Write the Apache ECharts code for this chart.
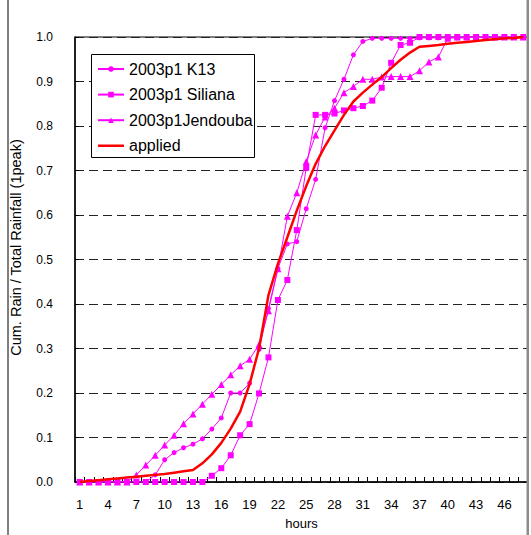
<!DOCTYPE html>
<html>
<head>
<meta charset="utf-8">
<script src="https://cdn.jsdelivr.net/npm/echarts@6/dist/echarts.min.js"></script>
<style>html,body{margin:0;padding:0;background:#fff}#c{width:531px;height:535px}</style>
</head>
<body>
<div id="c"></div>
<script>
// Categories (hours)
const hours = [1,2,3,4,5,6,7,8,9,10,11,12,13,14,15,16,17,18,19,20,21,22,23,24,25,26,27,28,29,30,31,32,33,34,35,36,37,38,39,40,41,42,43,44,45,46,47,48];

// Series values (cumulative rain / total rainfall)
const k13 = [0,0,0,0,0,0,0,0,0.016,0.05,0.066,0.077,0.085,0.097,0.119,0.144,0.200,0.200,0.222,0.298,0.39,0.48,0.535,0.54,0.614,0.68,0.796,0.857,0.905,0.96,0.99,0.997,0.997,0.997,0.997,0.997,0.998,0.998,0.998,0.998,0.998,0.998,1,1,1,1,1,1];
const siliana = [0,0,0,0,0,0,0,0,0,0,0,0,0,0,0.014,0.031,0.06,0.105,0.13,0.199,0.28,0.409,0.454,0.566,0.706,0.825,0.825,0.828,0.835,0.84,0.845,0.857,0.886,0.942,0.982,0.987,1,1,1,1,1,1,1,1,1,1,1,1];
const jendouba = [0,0,0,0,0,0,0.016,0.038,0.06,0.083,0.105,0.131,0.153,0.175,0.197,0.219,0.241,0.261,0.276,0.309,0.385,0.479,0.597,0.65,0.72,0.78,0.82,0.84,0.875,0.889,0.905,0.905,0.91,0.911,0.911,0.911,0.924,0.944,0.955,0.997,1,1,1,1,1,1,1,1];
const applied = [0,0.002,0.004,0.006,0.008,0.010,0.012,0.014,0.016,0.018,0.021,0.024,0.027,0.042,0.062,0.088,0.12,0.158,0.22,0.30,0.42,0.49,0.55,0.61,0.665,0.715,0.755,0.79,0.825,0.855,0.875,0.893,0.91,0.93,0.949,0.965,0.978,0.98,0.982,0.985,0.987,0.989,0.991,0.993,0.995,0.997,0.998,1];

const seriesNames = ['2003p1 K13', '2003p1 Siliana', '2003p1Jendouba', 'applied'];
const xName = 'hours';
const yName = 'Cum. Rain / Total Rainfall (1peak)';

const FONT = '"Liberation Sans", Arial, sans-serif';
const MAG = '#ff00ff';

const chart = echarts.init(document.getElementById('c'), null, {renderer: 'svg'});
chart.setOption({
  animation: false,
  backgroundColor: '#fff',
  grid: {left: 74, right: 3, top: 37, bottom: 46, show: true, borderColor: '#000', borderWidth: 1},
  xAxis: {
    type: 'category', data: hours, boundaryGap: true,
    name: xName, nameLocation: 'middle', nameGap: 35,
    nameTextStyle: {fontFamily: FONT, fontSize: 13, color: '#000'},
    axisLine: {lineStyle: {color: '#000', width: 1.5}},
    axisTick: {show: true, inside: true, length: 5, interval: 0, lineStyle: {color: '#000'}},
    axisLabel: {interval: 2, margin: 16, fontFamily: FONT, fontSize: 13, color: '#000'},
    splitLine: {show: false}
  },
  yAxis: {
    type: 'value', min: 0, max: 1, interval: 0.1,
    name: yName, nameLocation: 'middle', nameGap: 52, nameRotate: 90,
    nameTextStyle: {fontFamily: FONT, fontSize: 14.5, color: '#000', padding: [0, 0, 0, 24]},
    axisLine: {show: true, lineStyle: {color: '#000', width: 1.5}},
    axisTick: {show: true, inside: true, length: 4, lineStyle: {color: '#000'}},
    axisLabel: {formatter: v => v.toFixed(1), margin: 22, fontFamily: FONT, fontSize: 12, color: '#000'},
    splitLine: {show: true, lineStyle: {color: '#222', type: [9, 5], width: 1}}
  },
  legend: {
    orient: 'vertical', left: 97, top: 60, padding: 0,
    itemWidth: 26, itemHeight: 7, itemGap: 7.6,
    textStyle: {fontFamily: FONT, fontSize: 16, color: '#000', lineHeight: 18},
    z: 5,
    data: [
      {name: seriesNames[0]},
      {name: seriesNames[1]},
      {name: seriesNames[2]},
      {name: seriesNames[3], icon: 'path://M0,0L26,0L26,0.01L0,0.01Z M0,2.2L26,2.2L26,4.8L0,4.8Z M0,7L26,7L26,7.01L0,7.01Z'}
    ]
  },
  graphic: {elements: [
    {type: 'rect', z: 4, shape: {x: 91.5, y: 54.5, width: 163, height: 103}, style: {fill: '#fff', stroke: '#000', lineWidth: 1}},
    {type: 'line', z: 4, shape: {x1: 8, y1: 0, x2: 8, y2: 535}, style: {stroke: '#000', lineWidth: 1}},
    {type: 'rect', z: 4, shape: {x: 526.5, y: 0, width: 2.5, height: 535}, style: {fill: '#8c8c8c'}}
  ]},
  series: [
    {name: seriesNames[0], type: 'line', data: k13, symbol: 'circle', symbolSize: 5, showSymbol: true, showAllSymbol: true,
     lineStyle: {color: MAG, width: 1}, itemStyle: {color: MAG}, z: 2},
    {name: seriesNames[1], type: 'line', data: siliana, symbol: 'rect', symbolSize: 6, showSymbol: true, showAllSymbol: true,
     lineStyle: {color: MAG, width: 1}, itemStyle: {color: MAG}, z: 2},
    {name: seriesNames[2], type: 'line', data: jendouba, symbol: 'triangle', symbolSize: 7, showSymbol: true, showAllSymbol: true,
     lineStyle: {color: MAG, width: 1}, itemStyle: {color: MAG}, z: 2},
    {name: seriesNames[3], type: 'line', data: applied, symbol: 'none',
     lineStyle: {color: '#ff0000', width: 2.5}, itemStyle: {color: '#ff0000'}, z: 3}
  ]
});
</script>
</body>
</html>
